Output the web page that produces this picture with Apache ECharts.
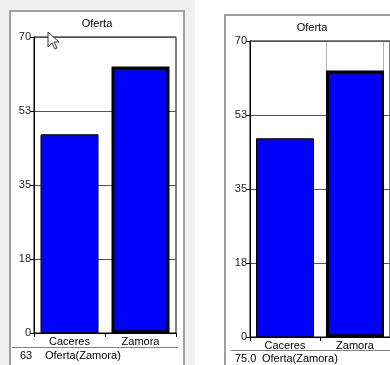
<!DOCTYPE html>
<html>
<head>
<meta charset="UTF-8">
<title>Oferta</title>
<script src="https://cdn.jsdelivr.net/npm/echarts@6/dist/echarts.min.js"></script>
<style>
html, body { margin: 0; padding: 0; background: #fff; }
#chart { width: 390px; height: 365px; }
</style>
</head>
<body>
<div id="chart"></div>
<script>
// data
var categories = ['Caceres', 'Zamora'];
var oferta = [47, 63];
var yTicks = [0, 17.5, 35, 52.5, 70];
var selectedIdx = 1;
var footLeft = ['63', 'Oferta(Zamora)'];
var footRight = ['75.0', 'Oferta(Zamora)'];
var chartTitle = 'Oferta';

var FONT = '"Liberation Sans", Arial, sans-serif';
var yMax = yTicks[yTicks.length - 1];
var yStep = yTicks[1] - yTicks[0];

function barData() {
	return oferta.map(function (v, i) {
		return {
			value: v,
			itemStyle: { borderWidth: i === selectedIdx ? 3 : 1 }
		};
	});
}

// dotted band showing the selected column (right chart only)
var selBand = categories.map(function (c, i) {
	return i === selectedIdx ? yMax : '-';
});

function makeX(idx) {
	return {
		type: 'category',
		gridIndex: idx,
		data: categories,
		axisLine: { lineStyle: { color: '#000', width: 1 } },
		axisTick: { show: true, length: 4, lineStyle: { color: '#000' } },
		axisLabel: { color: '#000', fontSize: 11, fontFamily: FONT, margin: 3 },
		splitLine: { show: false }
	};
}

function makeY(idx) {
	return {
		type: 'value',
		gridIndex: idx,
		min: 0,
		max: yMax,
		interval: yStep,
		axisLine: { show: true, lineStyle: { color: '#000', width: 1 } },
		axisTick: { show: true, length: 4, lineStyle: { color: '#000' } },
		axisLabel: {
			color: '#222', fontSize: 11, fontFamily: FONT, margin: 3,
			formatter: function (v) { return Math.round(v); }
		},
		splitLine: { show: true, lineStyle: { color: '#555', width: 1 } }
	};
}

function barSeries(idx) {
	return {
		type: 'bar',
		xAxisIndex: idx,
		yAxisIndex: idx,
		barWidth: 58,
		barGap: '-100%',
		data: barData(),
		itemStyle: { color: '#0000ff', borderColor: '#000' },
		z: 3
	};
}

var myChart = echarts.init(document.getElementById('chart'), null, { renderer: 'canvas' });

var option = {
	animation: false,
	backgroundColor: 'transparent',
	grid: [
		{ left: 34, top: 37, width: 142, height: 296, show: true, borderColor: '#000', borderWidth: 1, backgroundColor: 'transparent' },
		{ left: 250, top: 41, width: 144, height: 296, show: true, borderColor: '#000', borderWidth: 1, backgroundColor: 'transparent' }
	],
	xAxis: [makeX(0), makeX(1)],
	yAxis: [makeY(0), makeY(1)],
	series: [
		barSeries(0),
		{
			type: 'bar',
			xAxisIndex: 1,
			yAxisIndex: 1,
			barWidth: 58,
			silent: true,
			data: selBand,
			itemStyle: { color: 'rgba(0,0,0,0)', borderColor: '#666', borderWidth: 1, borderType: 'dotted' },
			z: 2
		},
		barSeries(1)
	],
	graphic: [
		// panel frames
		{ type: 'rect', z: -10, shape: { x: 0, y: 0, width: 195, height: 365 }, style: { fill: '#f0f0f0' } },
		{ type: 'rect', z: -9, shape: { x: 10, y: 11, width: 174, height: 370 }, style: { fill: '#fff', stroke: '#a0a0a0', lineWidth: 2 } },
		{ type: 'rect', z: -9, shape: { x: 225, y: 15, width: 200, height: 370 }, style: { fill: '#fff', stroke: '#a0a0a0', lineWidth: 2 } },
		// titles
		{ type: 'text', x: 97, y: 24, style: { text: chartTitle, font: '11px ' + FONT, fill: '#000', textAlign: 'center', textVerticalAlign: 'middle' } },
		{ type: 'text', x: 312, y: 28, style: { text: chartTitle, font: '11px ' + FONT, fill: '#000', textAlign: 'center', textVerticalAlign: 'middle' } },
		// status rows
		{ type: 'line', shape: { x1: 12, y1: 347.5, x2: 178, y2: 347.5 }, style: { stroke: '#808080', lineWidth: 1 } },
		{ type: 'line', shape: { x1: 231, y1: 350.5, x2: 390, y2: 350.5 }, style: { stroke: '#808080', lineWidth: 1 } },
		{ type: 'text', x: 20, y: 356, style: { text: footLeft[0], font: '11px ' + FONT, fill: '#000', textVerticalAlign: 'middle' } },
		{ type: 'text', x: 45, y: 356, style: { text: footLeft[1], font: '11px ' + FONT, fill: '#000', textVerticalAlign: 'middle' } },
		{ type: 'text', x: 235, y: 359, style: { text: footRight[0], font: '11px ' + FONT, fill: '#000', textVerticalAlign: 'middle' } },
		{ type: 'text', x: 262, y: 359, style: { text: footRight[1], font: '11px ' + FONT, fill: '#000', textVerticalAlign: 'middle' } },
		// mouse pointer
		{ type: 'polygon', x: 48, y: 32, z: 20, shape: { points: [[0, 0], [0, 15], [4, 11], [7, 17], [9, 16], [6, 10], [11, 10]] }, style: { fill: '#fff', stroke: '#333', lineWidth: 1 } }
	]
};

myChart.setOption(option);
</script>
</body>
</html>
